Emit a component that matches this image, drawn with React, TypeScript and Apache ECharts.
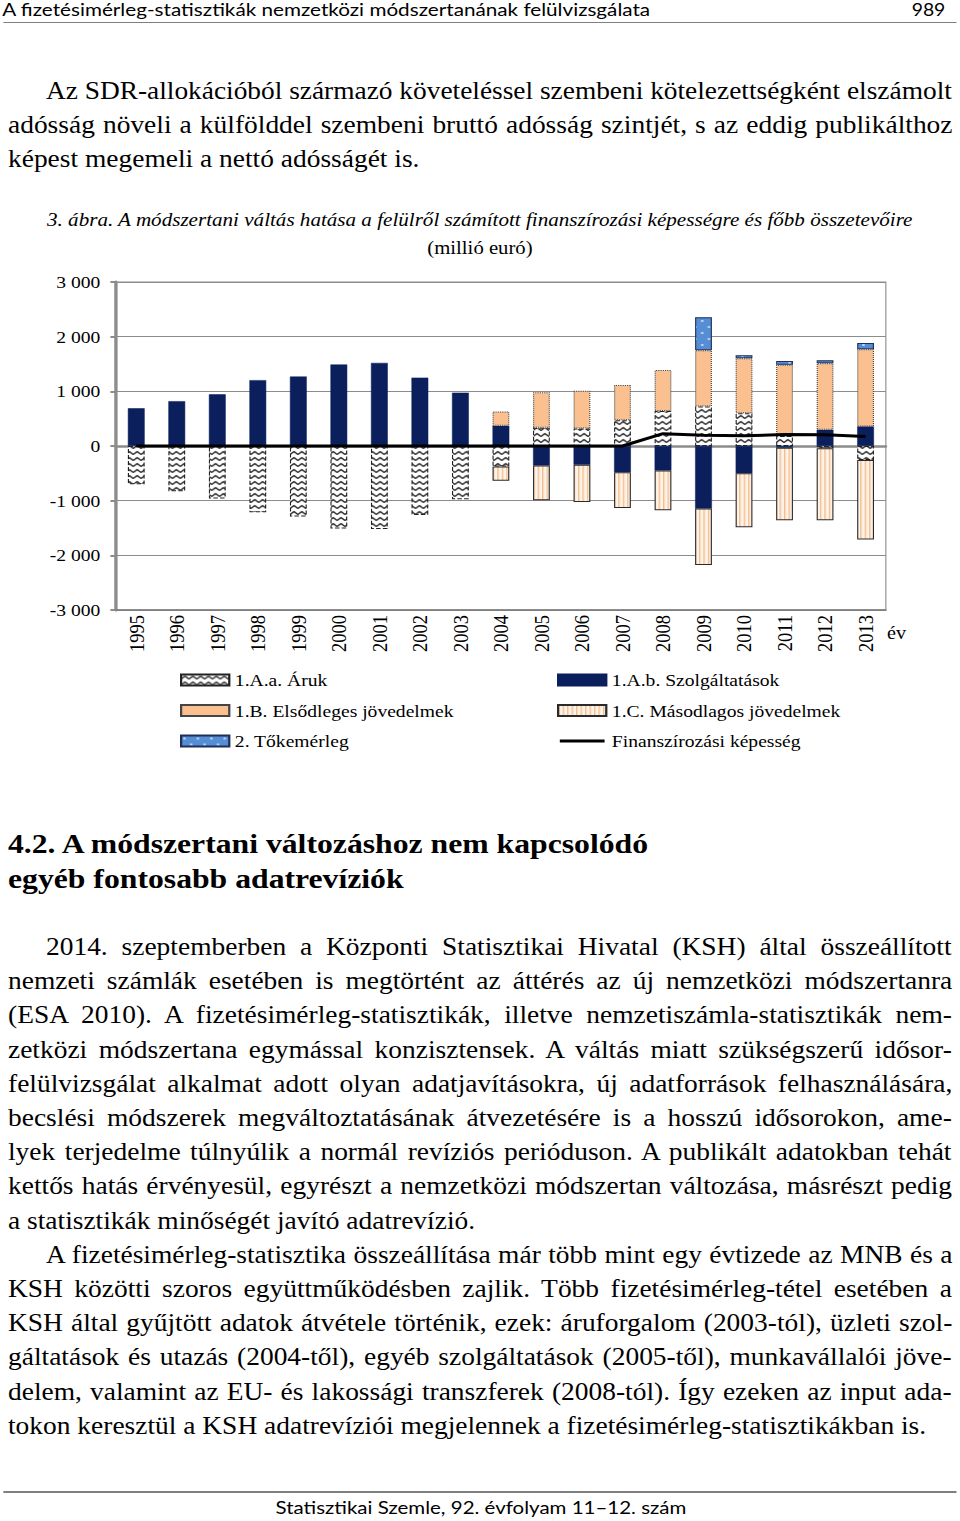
import { useEffect, useLayoutEffect, useRef } from "react";
import * as echarts from "echarts";

// The reference page is stretched horizontally; everything is laid out in
// "logical" px and the whole page is scaled by SX.
const SX = 1.12;
const PAGE_W = 960 / SX;
const px = (pageX: number) => pageX / SX;

const SERIF = "'Liberation Serif', 'Times New Roman', serif";
const SANS = "Lato, 'Open Sans', sans-serif";

// ---- chart data (millió euró) ----
const YEARS = [
  "1995", "1996", "1997", "1998", "1999", "2000", "2001", "2002", "2003", "2004",
  "2005", "2006", "2007", "2008", "2009", "2010", "2011", "2012", "2013",
];
const GOODS = [-700, -830, -960, -1210, -1290, -1510, -1520, -1260, -975, -376, 333, 321, 473, 642, 721, 600, 182, -40, -255];
const SERVICES = [690, 820, 945, 1205, 1270, 1490, 1520, 1250, 975, 370, -358, -345, -479, -448, -1145, -497, -30, 297, 358];
const PRIMARY = [null, null, null, null, null, null, null, null, null, 260, 649, 691, 642, 746, 1030, 1006, 1303, 1218, 1412];
const SECONDARY = [null, null, null, null, null, null, null, null, null, -260, -636, -679, -654, -728, -1030, -988, -1328, -1318, -1455];
const CAPITAL = [null, null, null, null, null, null, null, null, null, null, null, null, null, null, 605, 55, 72, 55, 115];
const NET_LENDING = [0, 0, 0, 0, 0, 0, 0, 0, 0, 0, 0, 0, 0, 225, 198, 186, 210, 205, 172];
const Y_TICKS = { min: -3000, max: 3000, step: 1000 };

const NAMES = {
  goods: "1.A.a. Áruk",
  services: "1.A.b. Szolgáltatások",
  primary: "1.B. Elsődleges jövedelmek",
  secondary: "1.C. Másodlagos jövedelmek",
  capital: "2. Tőkemérleg",
  net: "Finanszírozási képesség",
};

// ---- page text ----
const HEADER = "A fizetésimérleg-statisztikák nemzetközi módszertanának felülvizsgálata";
const PAGE_NO = "989";
const FOOTER = "Statisztikai Szemle, 92. évfolyam 11–12. szám";
const PARA1 = [
  "Az SDR-allokációból származó követeléssel szembeni kötelezettségként elszámolt",
  "adósság növeli a külfölddel szembeni bruttó adósság szintjét, s az eddig publikálthoz",
  "képest megemeli a nettó adósságét is.",
];
const CAPTION = "3. ábra. A módszertani váltás hatása a felülről számított finanszírozási képességre és főbb összetevőire";
const UNIT = "(millió euró)";
const HEADING = ["4.2. A módszertani változáshoz nem kapcsolódó", "egyéb fontosabb adatrevíziók"];
const PARA2 = [
  "2014. szeptemberben a Központi Statisztikai Hivatal (KSH) által összeállított",
  "nemzeti számlák esetében is megtörtént az áttérés az új nemzetközi módszertanra",
  "(ESA 2010). A fizetésimérleg-statisztikák, illetve nemzetiszámla-statisztikák nem-",
  "zetközi módszertana egymással konzisztensek. A váltás miatt szükségszerű idősor-",
  "felülvizsgálat alkalmat adott olyan adatjavításokra, új adatforrások felhasználására,",
  "becslési módszerek megváltoztatásának átvezetésére is a hosszú idősorokon, ame-",
  "lyek terjedelme túlnyúlik a normál revíziós perióduson. A publikált adatokban tehát",
  "kettős hatás érvényesül, egyrészt a nemzetközi módszertan változása, másrészt pedig",
  "a statisztikák minőségét javító adatrevízió.",
];
const PARA3 = [
  "A fizetésimérleg-statisztika összeállítása már több mint egy évtizede az MNB és a",
  "KSH közötti szoros együttműködésben zajlik. Több fizetésimérleg-tétel esetében a",
  "KSH által gyűjtött adatok átvétele történik, ezek: áruforgalom (2003-tól), üzleti szol-",
  "gáltatások és utazás (2004-től), egyéb szolgáltatások (2005-től), munkavállalói jöve-",
  "delem, valamint az EU- és lakossági transzferek (2008-tól). Így ezeken az input ada-",
  "tokon keresztül a KSH adatrevíziói megjelennek a fizetésimérleg-statisztikákban is.",
];

const BODY_SIZE = 24.5;
const BODY_LH = 34.2;
const COL_L = px(8);
const COL_R = px(952);
const INDENT_L = px(46);

type Mode = "none" | "justify" | "fit" | "center";

function TextLine(props: {
  text: string; x: number; y: number; w?: number; mode?: Mode;
  size: number; lh: number; style?: React.CSSProperties;
}) {
  const { text, x, y, w = 0, mode = "none", size, lh, style } = props;
  const ref = useRef<HTMLSpanElement>(null);

  useLayoutEffect(() => {
    const el = ref.current;
    if (!el) return;
    el.style.wordSpacing = "";
    el.style.transform = "";
    const nat = el.offsetWidth;
    if (mode === "justify") {
      const gaps = text.split(" ").length - 1;
      if (nat < w && gaps > 0) el.style.wordSpacing = `${(w - nat) / gaps}px`;
      else if (nat > w) el.style.transform = `scaleX(${w / nat})`;
    } else if (mode === "fit" && nat > 0) {
      el.style.transform = `scaleX(${w / nat})`;
    }
  }, [text, w, mode]);

  const box: React.CSSProperties = {
    position: "absolute", left: x, top: y, height: lh, lineHeight: `${lh}px`,
    fontSize: size, whiteSpace: "nowrap", ...style,
  };
  if (mode === "center") {
    box.width = w;
    box.textAlign = "center";
  }
  return (
    <div style={box}>
      <span ref={ref} style={{ display: "inline-block", transformOrigin: "0 50%" }}>{text}</span>
    </div>
  );
}

function Paragraph({ lines, top }: { lines: string[]; top: number }) {
  return (
    <>
      {lines.map((t, i) => {
        const first = i === 0;
        const last = i === lines.length - 1;
        const x = first ? INDENT_L : COL_L;
        return (
          <TextLine key={i} text={t} x={x} y={top + i * BODY_LH} w={COL_R - x}
            mode={last ? "none" : "justify"} size={BODY_SIZE} lh={BODY_LH} />
        );
      })}
    </>
  );
}

function makePattern(w: number, h: number, draw: (ctx: CanvasRenderingContext2D) => void) {
  const c = document.createElement("canvas");
  c.width = w;
  c.height = h;
  const ctx = c.getContext("2d")!;
  draw(ctx);
  return { image: c, repeat: "repeat", imageWidth: w, imageHeight: h };
}

function fmtThousands(v: number) {
  const s = Math.abs(v).toString();
  const body = s.length > 3 ? s.slice(0, s.length - 3) + " " + s.slice(-3) : s;
  return (v < 0 ? "-" : "") + body;
}

// thick horizontal stroke inside an 11-unit tall box, used as the line's legend key
const LINE_ICON = "path://M0,0L40,0L40,0.01L0,0.01Z M0,4L40,4L40,7L0,7Z M0,11L40,11L40,11.01L0,11.01Z";

const CHART_TOP = 258;
const CHART_H = 510;

function Chart() {
  const ref = useRef<HTMLDivElement>(null);

  useEffect(() => {
    if (!ref.current) return;
    const chart = echarts.init(ref.current, null, { renderer: "svg" });

    const zigzag = makePattern(7, 6, (ctx) => {
      ctx.fillStyle = "#ffffff";
      ctx.fillRect(0, 0, 7, 6);
      ctx.strokeStyle = "#111111";
      ctx.lineWidth = 1.2;
      ctx.beginPath();
      ctx.moveTo(0, 4.5);
      ctx.lineTo(3.5, 1.5);
      ctx.lineTo(7, 4.5);
      ctx.stroke();
    });
    const stripes = makePattern(4, 4, (ctx) => {
      ctx.fillStyle = "#fff4e9";
      ctx.fillRect(0, 0, 4, 4);
      ctx.fillStyle = "#f2bd90";
      ctx.fillRect(0, 0, 1.3, 4);
    });
    const dots = makePattern(12, 12, (ctx) => {
      ctx.fillStyle = "#558ed5";
      ctx.fillRect(0, 0, 12, 12);
      ctx.fillStyle = "#ffffff";
      ctx.beginPath();
      ctx.arc(3, 3, 0.9, 0, Math.PI * 2);
      ctx.arc(9, 9, 0.9, 0, Math.PI * 2);
      ctx.fill();
    });

    const gray = "#8c8c8c";
    const labelFont = { fontFamily: SERIF, color: "#000" };

    const bar = (name: string, data: (number | null)[], itemStyle: object) => ({
      name, type: "bar", stack: "total", barWidth: 15, xAxisIndex: 0,
      data: data.map((v) => (v === null ? "-" : v)),
      itemStyle,
    });

    const legendBase = {
      orient: "vertical", top: 670 - CHART_TOP, padding: 0,
      itemWidth: 43, itemHeight: 11, itemGap: 10.5,
      textStyle: { ...labelFont, fontSize: 17.5, lineHeight: 20 },
    };

    chart.setOption({
      animation: false,
      textStyle: { fontFamily: SERIF },
      grid: {
        left: px(116), right: PAGE_W - px(886), top: 282 - CHART_TOP, bottom: CHART_TOP + CHART_H - 610,
        show: true, borderColor: gray, borderWidth: 1,
      },
      legend: [
        {
          ...legendBase, left: px(180),
          data: [
            { name: NAMES.goods, icon: "rect" },
            { name: NAMES.primary, icon: "rect" },
            { name: NAMES.capital, icon: "rect" },
          ],
        },
        {
          ...legendBase, left: px(557),
          data: [
            { name: NAMES.services, icon: "rect" },
            { name: NAMES.secondary, icon: "rect" },
            { name: NAMES.net, icon: LINE_ICON, itemStyle: { color: "#000", borderWidth: 0 } },
          ],
        },
      ],
      xAxis: [
        {
          type: "category", data: YEARS, position: "top",
          axisLine: { onZero: true, lineStyle: { color: gray, width: 2.5 } },
          axisTick: { inside: true, length: 4, lineStyle: { color: gray, width: 1.5 } },
          axisLabel: { show: false },
          splitLine: { show: false },
        },
        {
          type: "category", data: YEARS, position: "bottom",
          axisLine: { onZero: false, lineStyle: { color: "#7a7a7a", width: 1.5 } },
          axisTick: { show: false },
          axisLabel: { ...labelFont, rotate: 90, interval: 0, fontSize: 18.5, margin: 5 },
          splitLine: { show: false },
          name: "év", nameLocation: "end", nameGap: 1,
          nameTextStyle: { ...labelFont, fontSize: 18, verticalAlign: "top", align: "left", padding: [14, 0, 0, 0] },
        },
      ],
      yAxis: {
        type: "value", min: Y_TICKS.min, max: Y_TICKS.max, interval: Y_TICKS.step,
        axisLine: { show: true, lineStyle: { color: gray, width: 3 } },
        axisTick: { show: true, length: 5, lineStyle: { color: gray, width: 2 } },
        axisLabel: { ...labelFont, fontSize: 17.5, margin: 14, formatter: fmtThousands },
        splitLine: { lineStyle: { color: gray, width: 1 } },
      },
      series: [
        bar(NAMES.goods, GOODS, { color: zigzag, borderColor: "#222", borderWidth: 1, borderType: "dashed" }),
        bar(NAMES.services, SERVICES, { color: "#0b1f5c", borderColor: "#0b1f5c", borderWidth: 0.5 }),
        bar(NAMES.primary, PRIMARY, { color: "#fac090", borderColor: "#444", borderWidth: 1, borderType: "dotted" }),
        bar(NAMES.secondary, SECONDARY, { color: stripes, borderColor: "#2a2a2a", borderWidth: 1 }),
        bar(NAMES.capital, CAPITAL, { color: dots, borderColor: "#1f2f5a", borderWidth: 1 }),
        {
          name: NAMES.net, type: "line", xAxisIndex: 0, data: NET_LENDING,
          symbol: "none", z: 5,
          lineStyle: { color: "#000", width: 3 },
          itemStyle: { color: "#000" },
        },
      ],
    });

    return () => chart.dispose();
  }, []);

  return (
    <div ref={ref}
      style={{ position: "absolute", left: 0, top: CHART_TOP, width: PAGE_W, height: CHART_H }} />
  );
}

export default function App() {
  return (
    <div
      style={{
        position: "absolute", left: 0, top: 0, width: PAGE_W, height: 1521,
        transform: `scaleX(${SX})`, transformOrigin: "0 0",
        fontFamily: SERIF, color: "#000", background: "#fff", overflow: "hidden",
      }}
    >
      {/* running head */}
      <TextLine text={HEADER} x={px(2)} y={0} w={px(650) - px(2)} mode="fit" size={16.5} lh={20}
        style={{ fontFamily: SANS }} />
      <TextLine text={PAGE_NO} x={px(912)} y={0} w={px(946) - px(912)} mode="fit" size={16.5} lh={20}
        style={{ fontFamily: SANS }} />
      <div style={{ position: "absolute", left: px(3), top: 21.5, width: px(957) - px(3), height: 1.5, background: "#7f7f7f" }} />

      <Paragraph lines={PARA1} top={74} />

      {/* figure caption */}
      <TextLine text={CAPTION} x={px(47)} y={206} w={px(912) - px(47)} mode="fit" size={18.5} lh={28}
        style={{ fontStyle: "italic" }} />
      <TextLine text={UNIT} x={0} y={234} w={PAGE_W} mode="center" size={18.5} lh={28} />

      <Chart />

      {HEADING.map((t, i) => (
        <TextLine key={t} text={t} x={COL_L} y={825.5 + i * 35} size={28.3} lh={35}
          style={{ fontWeight: "bold" }} />
      ))}

      <Paragraph lines={PARA2} top={930} />
      <Paragraph lines={PARA3} top={930 + PARA2.length * BODY_LH} />

      {/* running foot */}
      <div style={{ position: "absolute", left: px(3), top: 1491, width: px(957) - px(3), height: 1.5, background: "#7f7f7f" }} />
      <TextLine text={FOOTER} x={px(276)} y={1498} w={px(687) - px(276)} mode="fit" size={16.5} lh={20}
        style={{ fontFamily: SANS }} />
    </div>
  );
}
